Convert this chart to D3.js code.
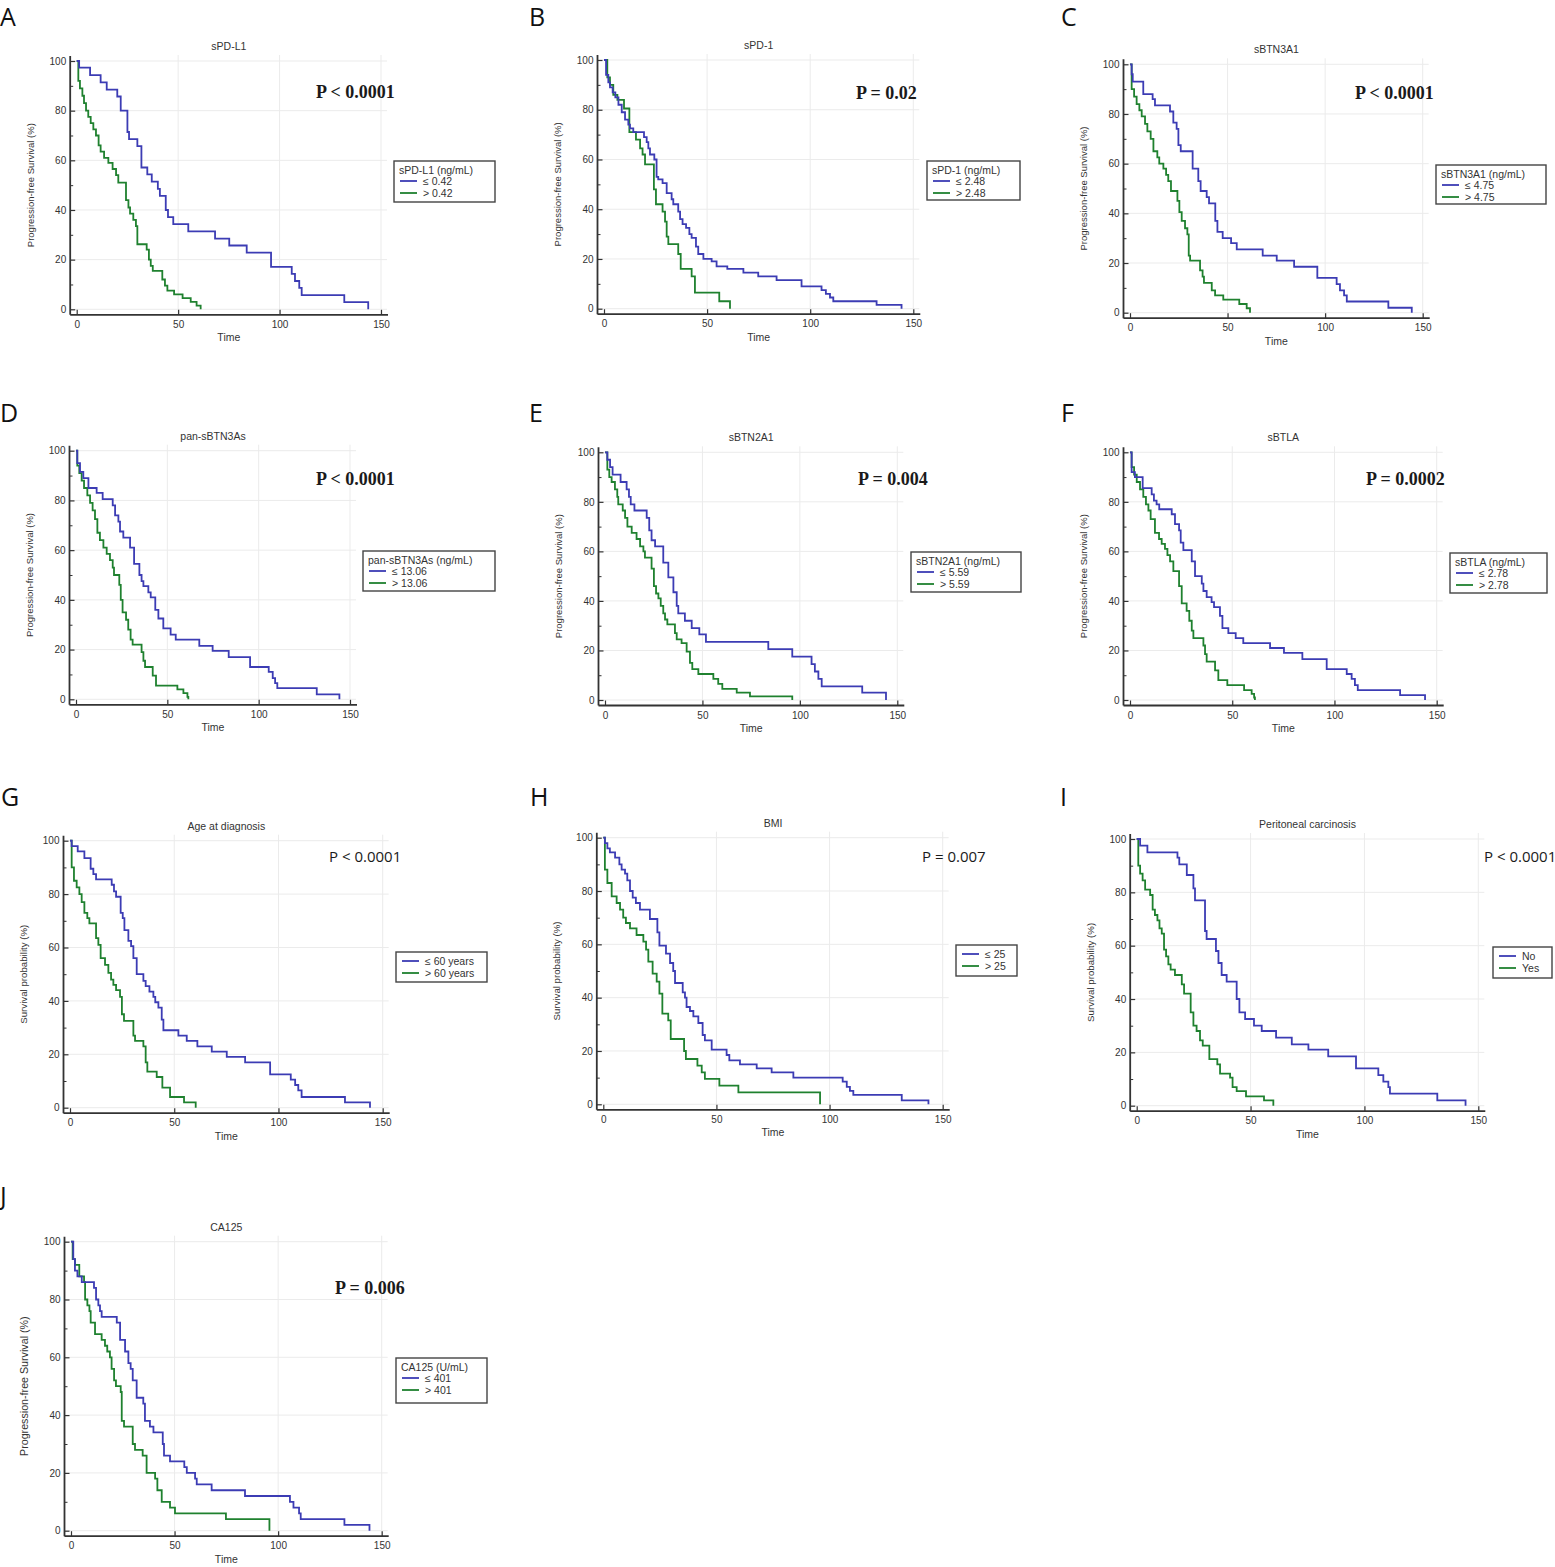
<!DOCTYPE html>
<html>
<head>
<meta charset="utf-8">
<script src="https://cdn.jsdelivr.net/npm/d3@7"></script>
<style>
  body { margin: 0; background: #fff; }
  text { fill: #333; }
</style>
</head>
<body>
<div id="chart"></div>
<script>
// Panel texts
const panelLetters = ["A", "B", "C", "D", "E", "F", "G", "H", "I", "J"];
const panelTitles = ["sPD-L1", "sPD-1", "sBTN3A1", "pan-sBTN3As", "sBTN2A1", "sBTLA",
  "Age at diagnosis", "BMI", "Peritoneal carcinosis", "CA125"];
const pValues = ["P < 0.0001", "P = 0.02", "P < 0.0001", "P < 0.0001", "P = 0.004", "P = 0.0002",
  "P < 0.0001", "P = 0.007", "P < 0.0001", "P = 0.006"];
const legendTitles = ["sPD-L1 (ng/mL)", "sPD-1 (ng/mL)", "sBTN3A1 (ng/mL)", "pan-sBTN3As (ng/mL)",
  "sBTN2A1 (ng/mL)", "sBTLA (ng/mL)", "", "", "", "CA125 (U/mL)"];
const lowLabels = ["≤ 0.42", "≤ 2.48", "≤ 4.75", "≤ 13.06", "≤ 5.59", "≤ 2.78", "≤ 60 years", "≤ 25", "No", "≤ 401"];
const highLabels = ["> 0.42", "> 2.48", "> 4.75", "> 13.06", "> 5.59", "> 2.78", "> 60 years", "> 25", "Yes", "> 401"];
const yAxisLabels = ["Progression-free Survival (%)", "Progression-free Survival (%)", "Progression-free Survival (%)",
  "Progression-free Survival (%)", "Progression-free Survival (%)", "Progression-free Survival (%)",
  "Survival probability (%)", "Survival probability (%)", "Survival probability (%)",
  "Progression-free Survival (%)"];

// Ticks
const xTicks = [0, 50, 100, 150];
const yTicks = [0, 20, 40, 60, 80, 100];
const yMinorTicks = [10, 30, 50, 70, 90];

// Kaplan-Meier steps: [time, survival % after the event]
const aLow = [[1.2,97.3],[6.6,94.3],[11.8,91.4],[14.8,88.5],[20,85.7],[21.7,80],[25,71.4],[25.8,68.5],[29.9,65.7],[31.9,57.1],[34.8,54.3],[37,51.4],[40,48.5],[41,45.7],[43.9,40],[45,37.1],[47.6,34.3],[55,31.4],[68.2,28.5],[75.2,25.7],[83.8,22.8],[95.8,17.1],[106,14.3],[107.6,11.4],[109.7,8.6],[110.9,5.7],[131.9,2.9],[143.7,0]];
const aHigh = [[0.8,92],[1.6,89],[2.8,86],[3.6,83],[4.6,80],[5.7,77.5],[6.9,75],[8.2,72.5],[9.5,70],[10.8,66],[11.8,63.5],[13.5,61],[15.6,59],[17.7,56.5],[19.4,54],[20.5,51],[24.3,44],[25.5,41],[26.3,38.5],[27.9,36],[29.2,33.5],[29.9,26.2],[34.5,24],[35.6,20],[36.5,17.5],[37.5,15.5],[42.2,12],[43.5,9.5],[44.7,7.5],[48,6],[52.2,4.5],[56.2,3],[59.1,1.5],[61.1,0]];
const bLow = [[1,94],[2.1,91],[2.9,89],[4.2,87],[5.5,85],[7,82],[8.6,79],[10.2,76],[11.8,74],[12.6,72.5],[14.2,71],[19.4,69],[20.7,67],[21.5,64.5],[22.3,62],[24.4,60],[25.5,53],[26.3,52],[28.4,50.5],[30.4,46.5],[32.8,44],[33.6,42],[36,39],[36.9,36],[38.1,34],[39.8,32.5],[41.4,30],[42.5,28.5],[44.6,25],[45.7,22],[48.2,20],[52.2,19],[54.6,17],[59.8,16],[67.6,14.5],[74.8,13],[83.7,11.5],[95.8,9],[105.5,7.5],[107.6,6],[109.6,4.5],[111.2,3],[132.2,1.5],[144.3,0]];
const bHigh = [[1.6,93],[2.9,90],[4.5,86],[6.5,84],[9.7,80.5],[12.3,71],[15.5,68],[17.5,64.5],[18.7,62],[19.9,58],[24.2,48],[25.2,42],[28.4,39],[29.6,35],[30.4,29],[31.2,26],[36,22],[37.2,16],[42.5,13],[44.1,6.5],[55.9,3],[61.1,0]];
const cLow = [[0.85,96],[1.4,93],[6.8,88],[11.6,86],[12.8,83.5],[20.5,81],[22.2,76.5],[23.9,74],[24.8,67.5],[26,65],[32.1,58],[35,53],[36.2,49],[39.3,46.5],[40.5,44],[43.7,37],[44.8,32.5],[47.5,30],[51.8,28],[54.7,25.5],[68,23],[75.2,21],[84.1,18.5],[96,14],[105.9,11.5],[107.6,9],[109.7,7],[111.1,4.5],[132.4,2],[144.4,0]];
const cHigh = [[0.85,90],[2.1,87],[3.4,84],[4.8,81.5],[6,79],[7.7,76],[8.9,73],[10.6,70],[12,65],[14,62.5],[15,60],[17.1,58],[18.5,55.5],[19.6,53],[21,49],[24.3,45],[25.3,40.5],[26.5,37],[28.2,34],[29.4,31.5],[30.1,23],[30.8,21],[35.9,17],[37.2,14.5],[37.9,12],[41.9,9],[43.6,7],[47.8,5.3],[56,3.5],[59.8,1.8],[61.5,0]];
const dLow = [[0.7,95],[2.2,91.5],[4,89],[6.8,85],[11.3,83],[14.6,80.5],[20.1,78],[21.4,74],[23.2,71.5],[24.1,67.5],[25.9,65],[29.6,61],[31.8,54.5],[34.7,50],[35.9,47.5],[36.9,45.5],[39.6,43],[40.9,41],[43.4,36],[45.1,32.5],[47.8,28.5],[51.8,26],[54.6,24],[67.5,21.5],[74.8,19.5],[83.6,17],[95.3,13],[105.5,11],[107.7,8.5],[109,6.5],[110.2,4.5],[131.8,2],[144.2,0]];
const dHigh = [[0.7,94],[1.8,91],[3.1,88],[4.4,85],[6.2,82],[7.7,79],[9.1,76],[10.4,72.5],[11.7,67],[13.1,64],[15,61],[16.8,58.5],[18.6,56],[20.1,53],[20.8,50],[23.7,46],[24.5,40],[25.5,35],[27.4,32],[28.6,28],[29.9,24],[31,22],[35.9,19],[36.9,15.5],[37.8,13],[42,9.5],[43.8,5.5],[55.5,4],[58.8,2.5],[61,1],[61.5,0]];
const eLow = [[1.2,97],[2.6,94],[3.9,91],[8,88],[11.1,85],[12.3,82],[13.2,79],[15.1,76.5],[21.4,73.5],[22.7,68.5],[23.9,64.5],[25.7,62],[29.9,55.5],[32.5,49.5],[35.1,43.5],[36.8,38],[37.6,35],[41,32],[44.5,29],[48.4,26.5],[51.8,23.5],[83.8,20.5],[96.1,17.5],[106,14.5],[107.7,11.5],[109.5,8.5],[111.2,5.5],[132,3],[144.2,0]];
const eHigh = [[1.2,93],[2.2,90],[3.4,88],[5.1,85],[6.3,82],[6.8,79],[9.1,76.5],[10.3,73.5],[11.5,70],[13.7,67.5],[16.2,65],[18,62],[19.7,60],[20.5,57.5],[23.9,53],[25.1,46],[26.2,43],[27.4,41],[28.6,38],[29.9,35],[30.8,32.5],[32,30.5],[35.9,27],[36.8,24.5],[39.3,23],[41.9,19.5],[43.6,15],[44.8,12.5],[47.9,10.5],[55.6,8.5],[58.1,6.5],[60.2,4.5],[67.6,3],[74.4,1.5],[96.1,0]];
const fLow = [[0.8,92],[2.4,90],[6.2,85.5],[10.6,83],[11.7,80.5],[13,79],[14.3,77],[20.4,75],[22,71],[24,68.5],[24.8,63.5],[26.1,60.5],[30.2,56],[31.8,50],[35.1,47],[35.9,44],[37.5,41.5],[39.9,39.5],[41.1,37.5],[44,34],[45.2,29],[48.1,27],[51.7,25],[55.4,23],[68.5,21],[75.3,19],[84.3,16.5],[96.2,12.5],[106,10.5],[108.4,8.5],[110,6],[111.4,4],[132.1,2],[144.3,0]];
const fHigh = [[0.8,94],[2,91],[3.3,88],[4.9,85],[6.5,82],[7.8,79],[9,76.5],[10.1,73],[12.2,67.5],[14.2,65],[15.5,63],[17.1,61],[18.3,58.5],[19.6,56],[21.2,52],[24,46],[25.3,39],[27.7,36],[29,32],[30.2,28],[31,25],[35.9,22],[36.7,18.5],[37.5,15.5],[41.6,12],[43.2,8],[47.6,6],[55.8,4],[59.5,2.5],[60.7,1],[61.1,0]];
const gLow = [[0.8,98],[3.7,96],[6.9,93.5],[9.9,89.5],[11.2,87.5],[12.5,85.5],[20,83.5],[21.1,81],[22.1,79],[24.3,73],[25.3,71],[26.1,66.5],[28,62.5],[29.3,60.5],[30.4,56],[32,50],[35.2,47.5],[36.3,45.5],[38.1,43.5],[40,41.5],[40.9,39.5],[42.4,37.5],[44,33],[44.8,29],[52,27],[56,25],[61.1,23],[68,21],[75.2,19],[84,17],[96,12.5],[105.9,10.5],[108,8.5],[109.5,6.5],[111.1,4],[131.9,2],[143.9,0]];
const gHigh = [[0.8,90],[1.9,85],[3.2,82.5],[4.5,80],[5.6,77],[6.9,73],[8.3,71],[9.3,69],[12.5,63.5],[13.6,61],[14.7,56],[16.8,53.5],[18.4,50.5],[19.7,48],[20.8,46],[22.1,44],[24,41.5],[24.9,35],[25.9,32.5],[30.4,27],[31.2,25],[35.2,23],[36.3,17],[37.1,13.5],[41.6,11.5],[44.3,7.5],[48,4],[54.7,2],[60.3,0]];
const hLow = [[0.7,98],[1.8,96],[2.9,94.5],[5.2,92.5],[7.1,90],[8.1,88],[9.6,86.5],[10.6,84],[11.8,80],[13,77.5],[14.4,75.5],[16.2,73],[20.6,69.5],[23.9,64.5],[24.8,59.5],[27.7,56.5],[29.5,53],[30.9,50],[31.7,45.5],[35.1,42],[36.1,40],[36.8,36.5],[38.3,35],[39.8,33],[42,30.5],[43.9,26],[44.9,24],[47.9,20.5],[54.5,18.5],[55.7,16.5],[60.4,15],[67.8,13.5],[74.4,12],[84,10],[105.8,8.5],[107.6,6.5],[109,5],[110.5,3.5],[131.9,1.5],[143.7,0]];
const hHigh = [[0.7,88],[1.8,83],[3.7,78],[5.9,75.5],[7.4,73],[8.8,70],[10,68],[11.8,66],[14.7,63.5],[17.7,61],[18.9,58],[19.9,53.5],[21.8,49],[23.6,46],[24.8,41.5],[26.1,34],[28.7,31.5],[29.8,24.5],[35.7,20],[36.5,17],[41.6,14.5],[43.5,12],[44.9,9.5],[51.3,7],[59.7,4.5],[95.8,0]];
const iLow = [[1.5,97.5],[4.7,95],[17.9,93],[18.7,90.5],[22,86.5],[24.9,81.5],[25.6,77],[30,65.5],[30.7,62.5],[34.8,58],[35.9,53.5],[37.3,49],[39.5,46.5],[43.9,40],[45.1,35],[47.6,32.5],[51.5,30],[54.9,28],[61.2,25.5],[68.1,23],[75.4,21],[84.1,18.5],[96.3,14],[106.1,11.5],[108.3,9],[110.5,7],[111.2,4.5],[132,2],[144.4,0]];
const iHigh = [[0.7,90],[1.5,87],[2.6,84.5],[3.7,81],[5.9,79],[7,73.5],[8,71.5],[9.1,69.5],[10,66.5],[11,64.5],[12,58.5],[12.9,56],[13.9,53],[14.9,51],[16.8,49],[19.8,45.5],[20.8,42],[23.7,35],[24.9,30],[26.3,28],[27.8,24.5],[29,22.5],[31.9,17.5],[35.4,15.5],[36.6,12],[41,10.5],[42.1,7],[43.9,5.5],[48,3.5],[55.9,2],[60,0]];
const jLow = [[1.1,94],[1.9,90],[3.1,88],[5.2,86],[11.1,84],[12.1,80],[13.2,78],[14,76],[14.8,74],[22.1,72],[23.7,66],[26.1,62],[27.7,58],[28.8,56],[29.8,52],[31.7,46],[34.9,44],[35.7,38],[38.1,36],[39.8,34],[44.3,30],[44.9,26],[47.8,24],[54.7,22],[55.9,20],[59.9,18],[60.7,16],[67.9,14],[84,12],[105.7,10],[107.4,8],[110.1,6],[110.9,4],[132,2],[144.1,0]];
const jHigh = [[0.8,94],[1.9,92],[4,88],[6.3,86],[6.8,80],[7.9,78],[8.9,76],[9.5,72],[11.6,68],[14.8,66],[16.4,64],[17.5,62],[18.8,60],[19.6,56],[20.8,52],[21.7,50],[24,48],[24.5,38],[25.6,36],[29.8,30],[30.9,28],[34.6,26],[36.5,20],[40.6,18],[41.7,14],[43.8,10],[47.8,8],[50.2,6],[74.8,4],[95.8,0]];

const lowCurves = [aLow, bLow, cLow, dLow, eLow, fLow, gLow, hLow, iLow, jLow];
const highCurves = [aHigh, bHigh, cHigh, dHigh, eHigh, fHigh, gHigh, hHigh, iHigh, jHigh];

// Panel placement on the page (pixels)
const frames = [
  { x0: 76.7, x1: 381, top: 61, bottom: 309.3, p: [316, 98], lg: [394, 161, 101, 41], letter: [0, 26], lab: 9.5 },
  { x0: 604, x1: 913.3, top: 60, bottom: 308.7, p: [856, 99], lg: [927, 161, 93, 39], letter: [529, 26], lab: 9.5 },
  { x0: 1130, x1: 1422.7, top: 64.3, bottom: 312.7, p: [1355, 99], lg: [1436, 165, 110, 39], letter: [1061, 26], lab: 9.5 },
  { x0: 76, x1: 350, top: 450.7, bottom: 699.3, p: [316, 485], lg: [363, 551, 132, 40], letter: [0, 422], lab: 9.5 },
  { x0: 605, x1: 897.3, top: 452.3, bottom: 700, p: [858, 485], lg: [911, 552, 110, 40], letter: [529, 422], lab: 9.5 },
  { x0: 1130, x1: 1436.7, top: 452.3, bottom: 700, p: [1366, 485], lg: [1450, 553, 97, 40], letter: [1061, 422], lab: 9.5 },
  { x0: 70, x1: 382.7, top: 840.7, bottom: 1107.7, p: [329, 862], lg: [396, 952, 91, 30], letter: [1, 806], lab: 9.7 },
  { x0: 603.3, x1: 942.7, top: 837.7, bottom: 1104.3, p: [922, 862], lg: [956, 945, 61, 31], letter: [530, 806], lab: 9.7 },
  { x0: 1136.7, x1: 1478.3, top: 839, bottom: 1105.7, p: [1484, 862], lg: [1493, 947, 59, 31], letter: [1060, 806], lab: 9.7 },
  { x0: 71, x1: 381.7, top: 1241.7, bottom: 1530.7, p: [335, 1294], lg: [396, 1358, 91, 45], letter: [0, 1205], lab: 10.7 }
];

const width = 1555;
const height = 1567;
const blue = "#3c3cb4";
const green = "#1f812f";
const axisColor = "#333";
const gridColor = "#ebebeb";
const sansFont = "'Liberation Sans', Arial, sans-serif";

const svg = d3
  .select("#chart")
  .append("svg")
  .attr("width", width)
  .attr("height", height)
  .style("font-family", sansFont);

svg.append("rect").attr("width", width).attr("height", height).attr("fill", "#fff");

frames.forEach((f, i) => {
  const x = d3.scaleLinear().domain([0, 150]).range([f.x0, f.x1]);
  const y = d3.scaleLinear().domain([0, 100]).range([f.bottom, f.top]);
  const axisX = f.x0 - 6.5;
  const axisY = f.bottom + 5.5;
  const g = svg.append("g");

  // grid
  g.selectAll("line.vgrid")
    .data(xTicks.slice(1))
    .enter()
    .append("line")
    .attr("x1", (d) => x(d))
    .attr("x2", (d) => x(d))
    .attr("y1", y(100) - 6)
    .attr("y2", axisY)
    .attr("stroke", gridColor)
    .attr("stroke-width", 1);

  g.selectAll("line.hgrid")
    .data(yTicks)
    .enter()
    .append("line")
    .attr("x1", axisX)
    .attr("x2", x(150) + 6)
    .attr("y1", (d) => y(d))
    .attr("y2", (d) => y(d))
    .attr("stroke", gridColor)
    .attr("stroke-width", 1);

  // y axis (ticks pointing inward)
  const yAxis = g
    .append("g")
    .attr("transform", `translate(${axisX},0)`)
    .call(d3.axisLeft(y).tickValues(yTicks).tickSizeInner(-5).tickSizeOuter(0).tickPadding(4));
  yAxis.select(".domain").remove();
  yAxis.selectAll("line").attr("stroke", axisColor).attr("stroke-width", 1.2);
  yAxis.selectAll("text").style("font-size", "10px").style("font-family", sansFont).attr("fill", "#333");

  const yMinor = g
    .append("g")
    .attr("transform", `translate(${axisX},0)`)
    .call(d3.axisLeft(y).tickValues(yMinorTicks).tickSizeInner(-3).tickSizeOuter(0).tickFormat(""));
  yMinor.select(".domain").remove();
  yMinor.selectAll("line").attr("stroke", axisColor).attr("stroke-width", 1);

  // x axis
  const xAxis = g
    .append("g")
    .attr("transform", `translate(0,${axisY})`)
    .call(d3.axisBottom(x).tickValues(xTicks).tickSizeInner(-5).tickSizeOuter(0).tickPadding(6));
  xAxis.select(".domain").remove();
  xAxis.selectAll("line").attr("stroke", axisColor).attr("stroke-width", 1.2);
  xAxis.selectAll("text").style("font-size", "10px").style("font-family", sansFont).attr("fill", "#333");

  // axis lines
  g.append("line")
    .attr("x1", axisX).attr("x2", axisX)
    .attr("y1", y(100) - 5).attr("y2", axisY)
    .attr("stroke", axisColor).attr("stroke-width", 1.8);
  g.append("line")
    .attr("x1", axisX).attr("x2", x(150) + 7)
    .attr("y1", axisY).attr("y2", axisY)
    .attr("stroke", axisColor).attr("stroke-width", 1.8);

  // curves
  const line = d3
    .line()
    .x((d) => x(d[0]))
    .y((d) => y(d[1]))
    .curve(d3.curveStepAfter);

  [[highCurves[i], green], [lowCurves[i], blue]].forEach(([steps, col]) => {
    g.append("path")
      .datum([[0, 100]].concat(steps))
      .attr("d", line)
      .attr("fill", "none")
      .attr("stroke", col)
      .attr("stroke-width", 1.8);
  });

  // title
  g.append("text")
    .attr("x", (f.x0 + f.x1) / 2)
    .attr("y", f.top - 11)
    .attr("text-anchor", "middle")
    .style("font-size", "10.5px")
    .text(panelTitles[i]);

  // axis labels
  g.append("text")
    .attr("transform", `translate(${f.x0 - 43},${(f.top + f.bottom) / 2}) rotate(-90)`)
    .attr("text-anchor", "middle")
    .style("font-size", f.lab + "px")
    .text(yAxisLabels[i]);

  g.append("text")
    .attr("x", (f.x0 + f.x1) / 2)
    .attr("y", f.bottom + 32)
    .attr("text-anchor", "middle")
    .style("font-size", "10.5px")
    .text("Time");

  // p value
  const plain = i >= 6 && i <= 8;
  g.append("text")
    .attr("x", f.p[0])
    .attr("y", f.p[1])
    .style("font-family", plain ? "'Open Sans', sans-serif" : "'Liberation Serif', serif")
    .style("font-weight", plain ? "normal" : "bold")
    .style("font-size", plain ? "15px" : "18px")
    .style("fill", "#1a1a1a")
    .text(pValues[i]);

  // legend
  const [lx, ly, lw, lh] = f.lg;
  const lg = g.append("g").attr("transform", `translate(${lx},${ly})`);
  lg.append("rect")
    .attr("width", lw)
    .attr("height", lh)
    .attr("fill", "#fff")
    .attr("stroke", "#444")
    .attr("stroke-width", 1.4);

  const hasTitle = legendTitles[i] !== "";
  const rowY = hasTitle ? [20, 32] : [9, 21];
  if (hasTitle) {
    lg.append("text")
      .attr("x", 5)
      .attr("y", 12.5)
      .style("font-size", "10.5px")
      .text(legendTitles[i]);
  }
  [[lowLabels[i], blue], [highLabels[i], green]].forEach(([label, col], k) => {
    lg.append("line")
      .attr("x1", 6).attr("x2", 23)
      .attr("y1", rowY[k]).attr("y2", rowY[k])
      .attr("stroke", col).attr("stroke-width", 1.8);
    lg.append("text")
      .attr("x", 29)
      .attr("y", rowY[k] + 3.6)
      .style("font-size", "10.5px")
      .text(label);
  });

  // panel letter
  svg.append("text")
    .attr("x", f.letter[0])
    .attr("y", f.letter[1])
    .style("font-family", "'Open Sans', sans-serif")
    .style("font-size", "25px")
    .style("fill", "#111")
    .text(panelLetters[i]);
});
</script>
</body>
</html>
